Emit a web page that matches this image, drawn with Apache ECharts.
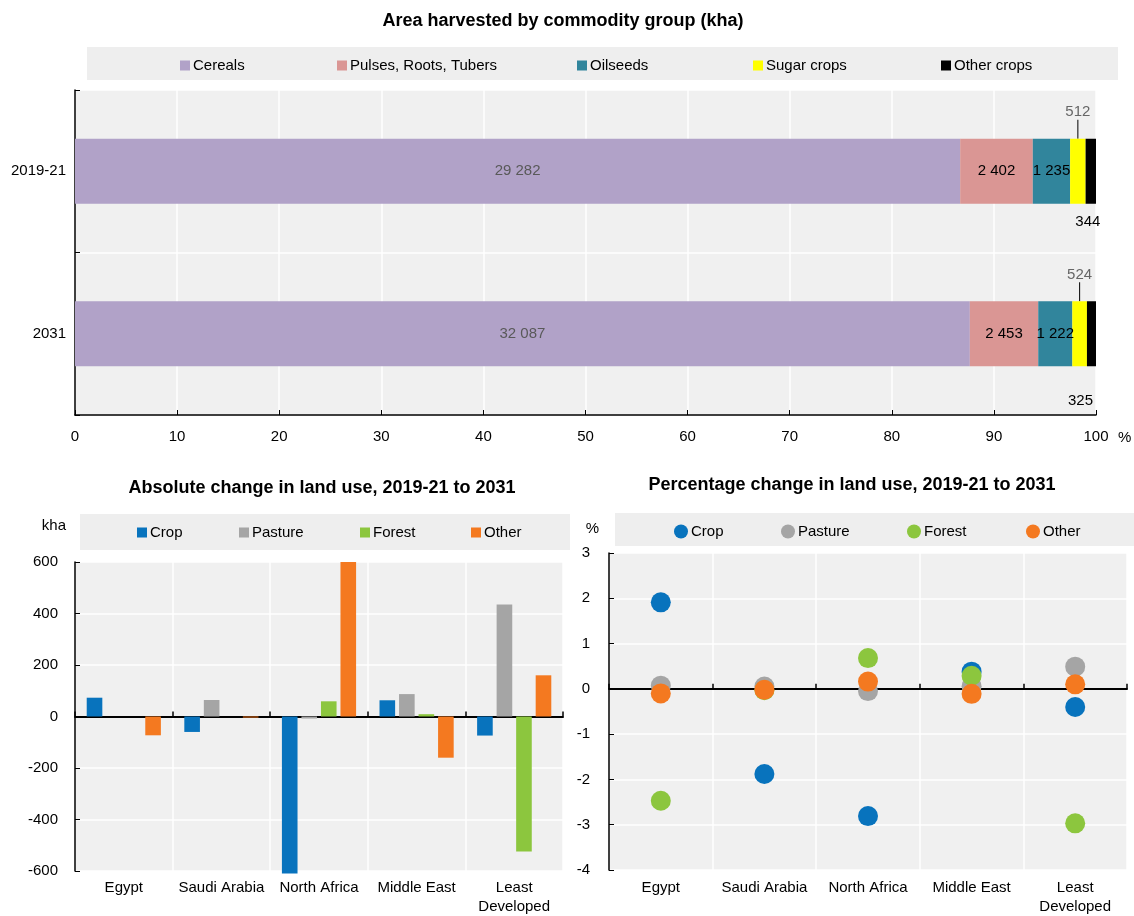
<!DOCTYPE html>
<html><head><meta charset="utf-8">
<script src="https://cdn.jsdelivr.net/npm/echarts@6/dist/echarts.min.js"></script>
<style>html,body{margin:0;padding:0;background:#fff}#c{width:1134px;height:916px}</style>
</head><body><div id="c"></div>
<script>
// ---------- data ----------
const periods = ['2019-21', '2031'];
const commodityGroups = ['Cereals', 'Pulses, Roots, Tubers', 'Oilseeds', 'Sugar crops', 'Other crops'];
const cereals = [29282, 32087];
const pulsesRootsTubers = [2402, 2453];
const oilseeds = [1235, 1222];
const sugarCrops = [512, 524];
const otherCrops = [344, 325];

const regions = ['Egypt', 'Saudi Arabia', 'North Africa', 'Middle East', 'Least\nDeveloped'];
const landUses = ['Crop', 'Pasture', 'Forest', 'Other'];
const absCrop = [73, -60, -610, 63, -74];
const absPasture = [0, 64, -8, 87, 435];
const absForest = [0, 0, 59, 9, -524];
const absOther = [-73, -4, 600, -160, 160];

const pctCrop = [1.91, -1.88, -2.81, 0.38, -0.40];
const pctPasture = [0.07, 0.05, -0.05, 0.06, 0.49];
const pctForest = [-2.47, -0.03, 0.68, 0.29, -2.97];
const pctOther = [-0.10, -0.02, 0.16, -0.11, 0.10];

// ---------- styling ----------
const FONT = "'Liberation Sans', Arial, sans-serif";
const BG = '#f0f0f0';
const LEG_BG = '#eeeeee';
const topColors = ['#b1a2c8', '#da9694', '#31859c', '#ffff00', '#000000'];
const luColors = ['#0873bd', '#a5a5a5', '#8cc63e', '#f47920'];

const totals = periods.map((_, i) => cereals[i] + pulsesRootsTubers[i] + oilseeds[i] + sugarCrops[i] + otherCrops[i]);
const fmt = v => String(v).replace(/\B(?=(\d{3})+(?!\d))/g, ' ');
const txt = (o) => Object.assign({fontFamily: FONT, fontSize: 15, color: '#000'}, o || {});

function topBar(idx, vals, label, extra) {
  return Object.assign({
    name: commodityGroups[idx], type: 'bar', stack: 'area', xAxisIndex: 0, yAxisIndex: 0,
    barWidth: '40%', itemStyle: {color: topColors[idx]},
    data: vals.map((v, i) => v / totals[i] * 100),
    label: Object.assign({show: true, formatter: p => fmt(vals[p.dataIndex])}, txt(), label)
  }, extra || {});
}

const topSeries = [
  topBar(0, cereals, {position: 'inside', color: '#595959'}),
  topBar(1, pulsesRootsTubers, {position: 'inside'}),
  topBar(2, oilseeds, {position: 'inside'}),
  topBar(3, sugarCrops, {position: 'top', distance: 5, color: '#666666'},
    {labelLayout: {dy: -14}, labelLine: {show: true, lineStyle: {color: '#000', width: 1}}}),
  topBar(4, otherCrops, {position: 'bottom', distance: 8})
];
const otherLabelOffsets = [[-3, 3], [-11, 19]];
topSeries[4].data = otherCrops.map((v, i) => ({value: v / totals[i] * 100, label: {offset: otherLabelOffsets[i]}}));

const absData = [absCrop, absPasture, absForest, absOther];
const pctData = [pctCrop, pctPasture, pctForest, pctOther];

const absSeries = absData.map((d, k) => ({
  name: landUses[k], type: 'bar', xAxisIndex: 1, yAxisIndex: 1,
  barGap: '25%', barCategoryGap: '24%', clip: false,
  itemStyle: {color: luColors[k]}, data: d
}));
const pctSeries = pctData.map((d, k) => ({
  name: landUses[k], type: 'scatter', xAxisIndex: 3, yAxisIndex: 2,
  symbolSize: 20, itemStyle: {color: luColors[k], opacity: 1}, data: d
}));

function legendItem(name, left, top, icon, size) {
  return {data: [name], left, top, icon, itemWidth: size, itemHeight: size, padding: 0,
    selectedMode: false, textStyle: txt({padding: [0, 0, 0, -2]})};
}
const titleStyle = txt({fontSize: 18, fontWeight: 'bold'});

const option = {
  animation: false,
  backgroundColor: '#fff',
  textStyle: {fontFamily: FONT},
  title: [
    {text: 'Area harvested by commodity group (kha)', left: 563, top: 12, textAlign: 'center', padding: 0, textStyle: titleStyle},
    {text: 'Absolute change in land use, 2019-21 to 2031', left: 322, top: 479, textAlign: 'center', padding: 0, textStyle: titleStyle},
    {text: 'Percentage change in land use, 2019-21 to 2031', left: 852, top: 476, textAlign: 'center', padding: 0, textStyle: titleStyle}
  ],
  graphic: [
    {type: 'rect', z: -10, shape: {x: 87, y: 47, width: 1031, height: 33}, style: {fill: LEG_BG}},
    {type: 'rect', z: -10, shape: {x: 80, y: 514, width: 490, height: 36}, style: {fill: LEG_BG}},
    {type: 'rect', z: -10, shape: {x: 615, y: 513, width: 519, height: 33}, style: {fill: LEG_BG}}
  ],
  legend: [
    legendItem('Cereals', 180, 58, 'rect', 10),
    legendItem('Pulses, Roots, Tubers', 337, 58, 'rect', 10),
    legendItem('Oilseeds', 577, 58, 'rect', 10),
    legendItem('Sugar crops', 753, 58, 'rect', 10),
    legendItem('Other crops', 941, 58, 'rect', 10),
    legendItem('Crop', 137, 525, 'rect', 10),
    legendItem('Pasture', 239, 525, 'rect', 10),
    legendItem('Forest', 360, 525, 'rect', 10),
    legendItem('Other', 471, 525, 'rect', 10),
    legendItem('Crop', 674, 524, 'circle', 14),
    legendItem('Pasture', 781, 524, 'circle', 14),
    legendItem('Forest', 907, 524, 'circle', 14),
    legendItem('Other', 1026, 524, 'circle', 14)
  ],
  grid: [
    {left: 75, right: 38, top: 90, bottom: 501, show: true, backgroundColor: BG, borderWidth: 0},
    {left: 75, right: 571, top: 562, bottom: 42, show: true, backgroundColor: BG, borderWidth: 0},
    {left: 609, right: 7, top: 553, bottom: 44, show: true, backgroundColor: BG, borderWidth: 0}
  ],
  xAxis: [
    {gridIndex: 0, type: 'value', min: 0, max: 100, interval: 10,
      name: '%', nameLocation: 'end', nameGap: 22, nameTextStyle: txt({verticalAlign: 'top', padding: [15, 0, 0, 0]}),
      axisLine: {show: true, lineStyle: {color: '#000', width: 1.5}},
      axisTick: {show: true, inside: true, length: 5, lineStyle: {color: '#000'}},
      axisLabel: txt({margin: 14}),
      splitLine: {show: true, lineStyle: {color: '#ffffff', width: 1.5}}},
    {gridIndex: 1, type: 'category', data: regions, position: 'bottom',
      axisLine: {show: false, onZero: false}, axisTick: {show: false},
      axisLabel: txt({margin: 7, lineHeight: 19, interval: 0}),
      splitLine: {show: true, lineStyle: {color: '#ffffff', width: 1.5}}},
    {gridIndex: 1, type: 'category', data: regions, position: 'bottom',
      axisLine: {show: true, onZero: true, lineStyle: {color: '#000', width: 2}},
      axisTick: {show: true, inside: true, length: 5, lineStyle: {color: '#000', width: 1.5}},
      axisLabel: {show: false}, splitLine: {show: false}},
    {gridIndex: 2, type: 'category', data: regions, position: 'bottom',
      axisLine: {show: false, onZero: false}, axisTick: {show: false},
      axisLabel: txt({margin: 8, lineHeight: 19, interval: 0}),
      splitLine: {show: true, lineStyle: {color: '#ffffff', width: 1.5}}},
    {gridIndex: 2, type: 'category', data: regions, position: 'bottom',
      axisLine: {show: true, onZero: true, lineStyle: {color: '#000', width: 2}},
      axisTick: {show: true, inside: true, length: 5, lineStyle: {color: '#000', width: 1.5}},
      axisLabel: {show: false}, splitLine: {show: false}}
  ],
  yAxis: [
    {gridIndex: 0, type: 'category', data: periods, inverse: true,
      axisLine: {show: true, lineStyle: {color: '#000', width: 1.5}},
      axisTick: {show: true, inside: true, length: 5, lineStyle: {color: '#000'}},
      axisLabel: txt({margin: 9}),
      splitLine: {show: true, lineStyle: {color: '#ffffff', width: 1.5}}},
    {gridIndex: 1, type: 'value', min: -600, max: 600, interval: 200,
      name: 'kha', nameLocation: 'end', nameGap: 29, nameTextStyle: txt({align: 'right', padding: [0, 9, 0, 0]}),
      axisLine: {show: true, lineStyle: {color: '#000', width: 1.5}},
      axisTick: {show: true, inside: true, length: 5, lineStyle: {color: '#000'}},
      axisLabel: txt({margin: 17}),
      splitLine: {show: true, lineStyle: {color: '#ffffff', width: 1.5}}},
    {gridIndex: 2, type: 'value', min: -4, max: 3, interval: 1,
      name: '%', nameLocation: 'end', nameGap: 17, nameTextStyle: txt({align: 'right', padding: [0, 10, 0, 0]}),
      axisLine: {show: true, lineStyle: {color: '#000', width: 1.5}},
      axisTick: {show: true, inside: true, length: 5, lineStyle: {color: '#000'}},
      axisLabel: txt({margin: 19}),
      splitLine: {show: true, lineStyle: {color: '#ffffff', width: 1.5}}}
  ],
  series: topSeries.concat(absSeries, pctSeries)
};

const chart = echarts.init(document.getElementById('c'), null, {renderer: 'canvas'});
chart.setOption(option);
</script>
</body></html>
